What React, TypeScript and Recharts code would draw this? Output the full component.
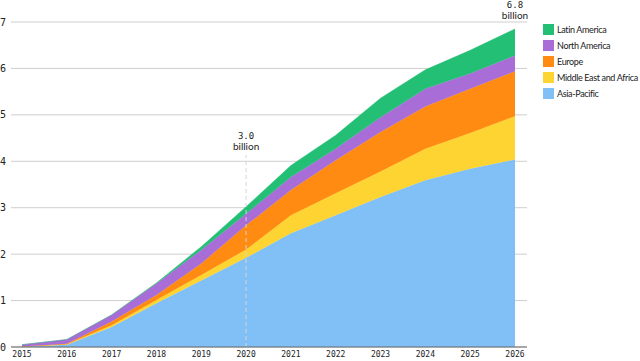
import {
  AreaChart,
  Area,
  XAxis,
  YAxis,
  CartesianGrid,
  ReferenceLine,
  ReferenceDot,
} from "recharts";

const years = ["2015", "2016", "2017", "2018", "2019", "2020", "2021", "2022", "2023", "2024", "2025", "2026"];
const asiaPacific = [0.01, 0.05, 0.43, 0.94, 1.43, 1.92, 2.45, 2.84, 3.23, 3.59, 3.84, 4.04];
const middleEastAfrica = [0, 0.01, 0.04, 0.07, 0.12, 0.18, 0.39, 0.47, 0.55, 0.68, 0.77, 0.93];
const europe = [0, 0.01, 0.08, 0.11, 0.25, 0.52, 0.54, 0.71, 0.85, 0.91, 0.95, 0.97];
const northAmerica = [0.04, 0.09, 0.14, 0.25, 0.29, 0.25, 0.28, 0.25, 0.32, 0.38, 0.33, 0.34];
const latinAmerica = [0, 0, 0, 0.01, 0.07, 0.15, 0.25, 0.29, 0.41, 0.41, 0.5, 0.57];
const yTicks = [0, 1, 2, 3, 4, 5, 6, 7];

// stacking order, bottom first
const series = [
  { key: "asia", name: "Asia-Pacific", color: "#80c0f6", values: asiaPacific },
  { key: "mea", name: "Middle East and Africa", color: "#fdd432", values: middleEastAfrica },
  { key: "europe", name: "Europe", color: "#ff8b12", values: europe },
  { key: "na", name: "North America", color: "#a86dd6", values: northAmerica },
  { key: "latam", name: "Latin America", color: "#22bf74", values: latinAmerica },
];

const data = years.map((year, i) => {
  const row: Record<string, string | number> = { year };
  series.forEach((s) => (row[s.key] = s.values[i]));
  return row;
});

const total2026 = series.reduce((sum, s) => sum + s.values[11], 0);
const total2020 = series.reduce((sum, s) => sum + s.values[5], 0);

const YTick = ({ y, payload }: { y?: number; payload?: { value: number } }) => (
  <text x={0} y={y} dy={3.5} fontSize={10} fontFamily="DejaVu Sans Mono" fill="#222">
    {payload?.value}
  </text>
);

// two-line annotation drawn above a point
const Callout = ({ cx, cy, top, bottom, gap }: { cx?: number; cy?: number; top: string; bottom: string; gap: number }) => (
  <g>
    <text x={cx} y={(cy ?? 0) - gap - 11} textAnchor="middle" fontSize={9} fontFamily="DejaVu Sans Mono" fill="#222">
      {top}
    </text>
    <text x={cx} y={(cy ?? 0) - gap} textAnchor="middle" fontSize={10} fontFamily="Lato" fill="#222">
      {bottom}
    </text>
  </g>
);

export default function App() {
  return (
    <div style={{ position: "absolute", left: 0, top: 0, width: 640, height: 361, background: "#fff" }}>
      <AreaChart width={640} height={361} data={data} margin={{ top: 22, right: 113, left: 0, bottom: 0 }}>
        <CartesianGrid vertical={false} stroke="#cfcfcf" />
        <XAxis
          dataKey="year"
          padding={{ left: 11, right: 12 }}
          height={14}
          tickLine={false}
          tickSize={0}
          tickMargin={4}
          axisLine={{ stroke: "#666" }}
          tick={{ fontSize: 8, fontFamily: "DejaVu Sans Mono", fill: "#222" }}
          interval={0}
        />
        <YAxis
          type="number"
          domain={[0, 7]}
          ticks={yTicks}
          width={11}
          axisLine={false}
          tickLine={false}
          tick={<YTick />}
        />
        {series.map((s) => (
          <Area
            key={s.key}
            type="linear"
            dataKey={s.key}
            name={s.name}
            stackId="1"
            stroke={s.color}
            strokeWidth={0.5}
            fill={s.color}
            fillOpacity={1}
            isAnimationActive={false}
          />
        ))}
        <ReferenceLine
          segment={[
            { x: "2020", y: 0 },
            { x: "2020", y: 4.13 },
          ]}
          stroke="#d4d4d4"
          strokeDasharray="4 3"
        />
        <ReferenceDot
          x="2020"
          y={4.13}
          r={0}
          shape={(p: { cx?: number; cy?: number }) => (
            <Callout cx={p.cx} cy={p.cy} top={total2020.toFixed(1)} bottom="billion" gap={5} />
          )}
        />
        <ReferenceDot
          x="2026"
          y={total2026}
          r={0}
          shape={(p: { cx?: number; cy?: number }) => (
            <Callout cx={p.cx} cy={p.cy} top="6.8" bottom="billion" gap={10} />
          )}
        />
      </AreaChart>
      <div style={{ position: "absolute", left: 543, top: 21, fontFamily: "Lato", fontSize: 9, color: "#222" }}>
        {[...series].reverse().map((s) => (
          <div key={s.key} style={{ display: "flex", alignItems: "center", height: 16, whiteSpace: "nowrap" }}>
            <span style={{ width: 11, height: 11, background: s.color, marginRight: 3, display: "inline-block", flexShrink: 0 }} />
            <span style={{ letterSpacing: -0.35 }}>{s.name}</span>
          </div>
        ))}
      </div>
    </div>
  );
}
